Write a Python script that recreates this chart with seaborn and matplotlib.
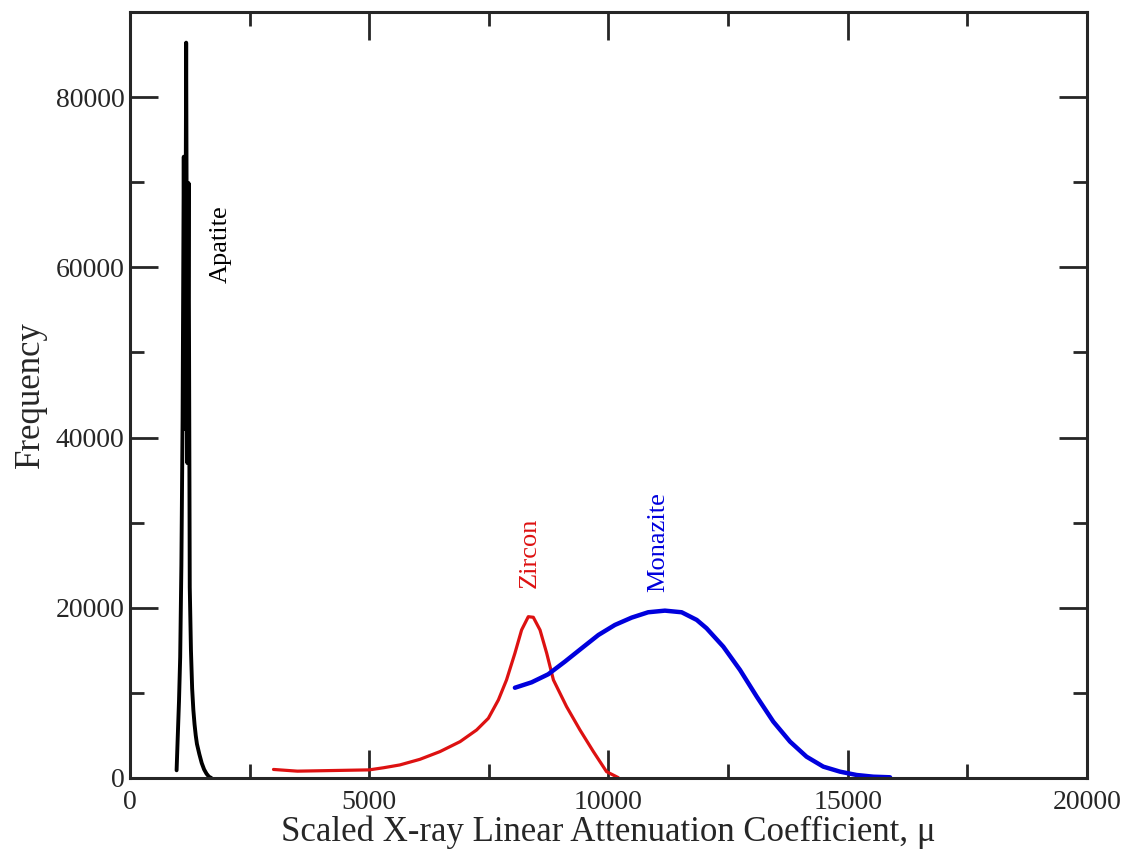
import matplotlib
matplotlib.use("Agg")
import matplotlib.pyplot as plt
from matplotlib.ticker import MultipleLocator
import seaborn as sns
import pandas as pd

# ---- data ----
apatite_x = [975, 1000, 1025, 1050, 1075, 1100, 1125, 1150, 1175, 1200, 1225, 1250,
             1275, 1300, 1325, 1350, 1375, 1400, 1450, 1500, 1550, 1600, 1650, 1700]
apatite_y = [900, 5000, 9000, 14200, 25000, 42000, 73000, 41000, 86400, 37000, 69900, 22400,
             15000, 10500, 8000, 6300, 5000, 4000, 2800, 1750, 1000, 500, 150, 0]

zircon_x = [3000, 3500, 4000, 4500, 5000, 5300, 5640, 6060, 6480, 6900, 7245, 7490, 7700,
            7870, 8045, 8185, 8325, 8430, 8570, 8710, 8850, 9125, 9405, 9685, 9960, 10205]
zircon_y = [1000, 800, 850, 900, 950, 1200, 1530, 2190, 3100, 4270, 5640, 7010, 9170,
            11520, 14650, 17390, 18950, 18880, 17390, 14650, 11520, 8380, 5640, 3100, 740, 40]

monazite_x = [8045, 8395, 8740, 9090, 9440, 9790, 10135, 10485, 10830, 11180, 11530, 11845,
              12050, 12400, 12750, 13100, 13445, 13795, 14140, 14490, 14840, 15185, 15535, 15885]
monazite_y = [10600, 11240, 12180, 13670, 15240, 16800, 17980, 18840, 19470, 19660, 19470, 18570,
              17590, 15430, 12690, 9550, 6620, 4270, 2500, 1330, 740, 350, 150, 80]

labels = ["Apatite", "Zircon", "Monazite"]
label_x = [1900, 8360, 11040]
label_y = [62700, 26400, 27700]
colors = ["black", "#dd1111", "#0000dd"]
widths = [2.8, 2.3, 3.2]

df = pd.concat([
    pd.DataFrame({"mu": apatite_x, "freq": apatite_y, "mineral": "Apatite"}),
    pd.DataFrame({"mu": zircon_x, "freq": zircon_y, "mineral": "Zircon"}),
    pd.DataFrame({"mu": monazite_x, "freq": monazite_y, "mineral": "Monazite"}),
], ignore_index=True)

sns.set_style("ticks")
plt.rcParams["font.family"] = ["Liberation Serif", "DejaVu Serif"]

fig = plt.figure(figsize=(11.28, 8.52), dpi=100)
ax = fig.add_axes([0.1152, 0.0869, 0.8484, 0.899])

for name, col, lw in zip(labels, colors, widths):
    sub = df[df["mineral"] == name]
    sns.lineplot(data=sub, x="mu", y="freq", sort=False, estimator=None,
                 color=col, linewidth=lw, ax=ax)

for name, x, y, col in zip(labels, label_x, label_y, colors):
    ax.text(x, y, name, rotation=90, color=col, fontsize=19,
            ha="center", va="center")

ax.set_xlim(0, 20000)
ax.set_ylim(0, 90000)
ax.set_xticks([0, 5000, 10000, 15000, 20000])
ax.set_yticks([0, 20000, 40000, 60000, 80000])
ax.xaxis.set_minor_locator(MultipleLocator(2500))
ax.yaxis.set_minor_locator(MultipleLocator(10000))
ax.tick_params(which="both", direction="in", top=True, right=True, width=2, labelsize=20)
ax.tick_params(which="major", length=20)
ax.tick_params(which="minor", length=10)
ax.tick_params(axis="x", pad=9)
ax.tick_params(axis="y", pad=4)
for s in ax.spines.values():
    s.set_linewidth(2.2)
    s.set_visible(True)

ax.set_xlabel("Scaled X-ray Linear Attenuation Coefficient, \u03bc", fontsize=25, labelpad=0)
ax.set_ylabel("Frequency", fontsize=25, labelpad=6)

fig.savefig("out.png", dpi=100)
